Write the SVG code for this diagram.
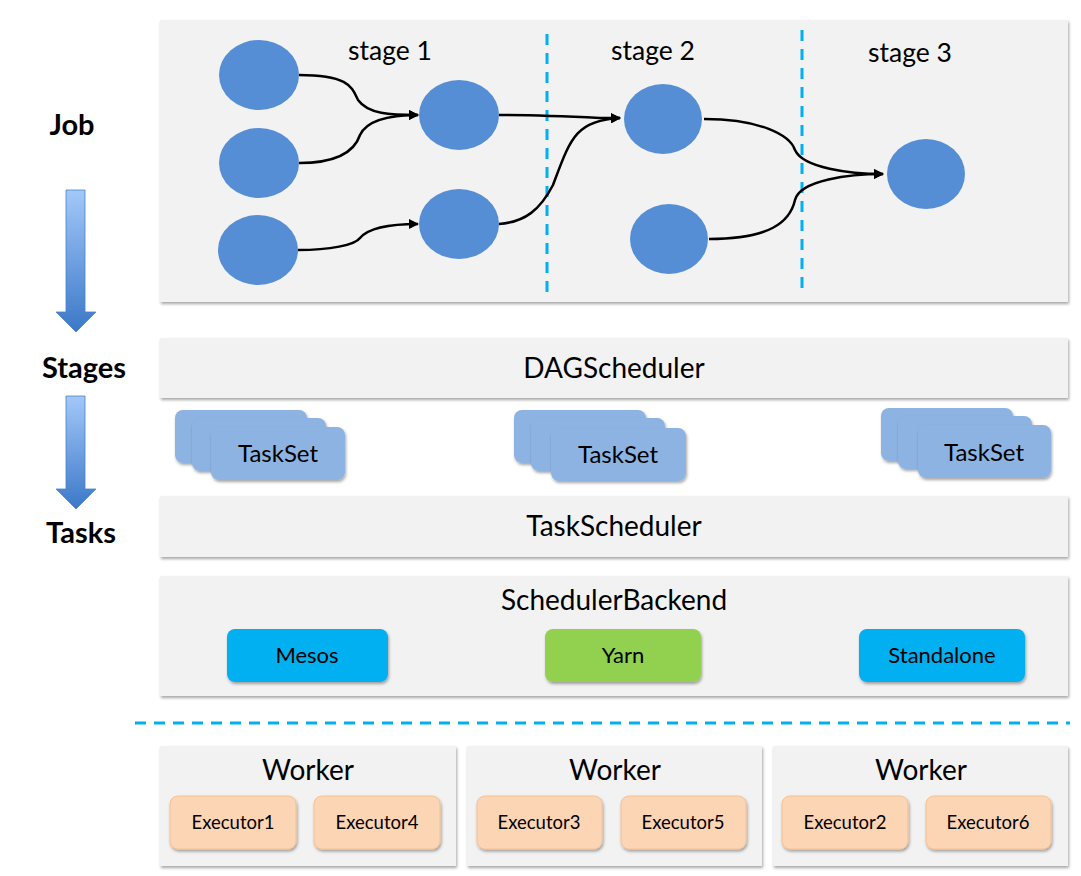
<svg xmlns="http://www.w3.org/2000/svg" width="1081" height="876" viewBox="0 0 1081 876">
<style>
.panel{fill:#f2f2f2;filter:url(#sh)}
.t{font-family:Lato,"Open Sans","Liberation Sans",sans-serif;fill:#000;text-anchor:middle}
.lbl{font-size:29px;font-weight:bold}
.stg{font-size:26.5px}
.big{font-size:28px}
.ts-t{font-size:24px}
.mid{font-size:22px}
.sm{font-size:18.5px}
.dag{fill:#558ed5}
.ts{fill:#8db3e2;filter:url(#sh)}
.exe{fill:#fcd5b5;stroke:#f8c090;stroke-width:1;filter:url(#sh)}
.edge{fill:none;stroke:#000;stroke-width:2.5;marker-end:url(#ah)}
.dash{stroke:#00b0f0;stroke-width:3;stroke-dasharray:11 8;fill:none}
</style>
<defs>
<filter id="sh" x="-10%" y="-10%" width="120%" height="130%">
<feDropShadow dx="1" dy="2" stdDeviation="1.5" flood-color="#000" flood-opacity="0.35"/>
</filter>
<linearGradient id="ag" x1="0" y1="0" x2="0" y2="1">
<stop offset="0" stop-color="#a3c8f9"/>
<stop offset="1" stop-color="#3b78c8"/>
</linearGradient>
<marker id="ah" viewBox="0 0 10 10" refX="9" refY="5" markerWidth="4" markerHeight="4" orient="auto" markerUnits="strokeWidth">
<path d="M0,0 L10,5 L0,10 z" fill="#000"/>
</marker>
</defs>
<rect width="1081" height="876" fill="#fff"/>

<g id="left-labels">
<text class="t lbl" x="72" y="135">Job</text>
<path d="M66,190 H85 V312 H96 L76,332 L56,312 H66 Z" fill="url(#ag)" stroke="#4a80c8" stroke-width="0.8"/>
<text class="t lbl" x="84" y="378">Stages</text>
<path d="M66,396 H85 V489 H96 L76,509 L56,489 H66 Z" fill="url(#ag)" stroke="#4a80c8" stroke-width="0.8"/>
<text class="t lbl" x="81" y="543">Tasks</text>
</g>

<g id="job-panel">
<rect class="panel" x="160" y="20" width="908" height="282"/>
<text class="t stg" x="390" y="60">stage 1</text>
<text class="t stg" x="653" y="60">stage 2</text>
<text class="t stg" x="910" y="62">stage 3</text>
<line class="dash" x1="547" y1="34" x2="547" y2="294"/>
<line class="dash" x1="802" y1="30" x2="802" y2="294"/>
</g>

<g id="connectors">
<path class="edge" d="M299,75 C350,75 352,88 358,100 C368,114 390,115 418,115"/>
<path class="edge" d="M299,163 C340,163 355,150 360,135 C368,118 395,115 418,115"/>
<path class="edge" d="M298,250 C330,250 355,245 360,238 C370,226 395,224 418,224"/>
<path class="edge" d="M499,115 C540,115 560,116 600,118 L620,118"/>
<path class="edge" d="M499,224 C525,222 540,210 553,185 C570,140 575,120 620,118"/>
<path class="edge" d="M704,119 C760,119 790,135 795,150 C803,168 850,174 883,174"/>
<path class="edge" d="M709,239 C770,239 790,222 795,200 C800,180 850,174 883,174"/>
</g>

<g id="node-a"><ellipse class="dag" cx="259" cy="75" rx="40" ry="35"/></g>
<g id="node-b"><ellipse class="dag" cx="259" cy="163" rx="40" ry="35"/></g>
<g id="node-c"><ellipse class="dag" cx="258" cy="250" rx="40" ry="35"/></g>
<g id="node-d"><ellipse class="dag" cx="459" cy="115" rx="40" ry="35"/></g>
<g id="node-e"><ellipse class="dag" cx="459" cy="224" rx="40" ry="35"/></g>
<g id="node-f"><ellipse class="dag" cx="663" cy="119" rx="39" ry="35"/></g>
<g id="node-g"><ellipse class="dag" cx="669" cy="239" rx="39" ry="35"/></g>
<g id="node-h"><ellipse class="dag" cx="926" cy="174" rx="39" ry="35"/></g>

<g id="dagscheduler">
<rect class="panel" x="160" y="338" width="908" height="60"/>
<text class="t big" x="614" y="378">DAGScheduler</text>
</g>

<g id="taskset-1">
<rect class="ts" x="175" y="410" width="132" height="53" rx="8"/>
<rect class="ts" x="192" y="418" width="134" height="53" rx="8"/>
<rect class="ts" x="211" y="427" width="134" height="53" rx="8"/>
<text class="t ts-t" x="278" y="462">TaskSet</text>
</g>
<g id="taskset-2">
<rect class="ts" x="514" y="410" width="132" height="53" rx="8"/>
<rect class="ts" x="531" y="418" width="134" height="53" rx="8"/>
<rect class="ts" x="551" y="428" width="135" height="53" rx="8"/>
<text class="t ts-t" x="618" y="463">TaskSet</text>
</g>
<g id="taskset-3">
<rect class="ts" x="881" y="408" width="132" height="53" rx="8"/>
<rect class="ts" x="898" y="416" width="134" height="53" rx="8"/>
<rect class="ts" x="918" y="425" width="133" height="53" rx="8"/>
<text class="t ts-t" x="984" y="461">TaskSet</text>
</g>

<g id="taskscheduler">
<rect class="panel" x="160" y="496" width="908" height="61"/>
<text class="t big" x="614" y="536">TaskScheduler</text>
</g>

<g id="schedulerbackend">
<rect class="panel" x="160" y="576" width="908" height="120"/>
<text class="t big" x="614" y="610">SchedulerBackend</text>
</g>
<g id="mesos">
<rect x="227" y="629" width="161" height="53" rx="8" fill="#00b0f0" filter="url(#sh)"/>
<text class="t mid" x="307" y="663">Mesos</text>
</g>
<g id="yarn">
<rect x="545" y="629" width="156" height="53" rx="8" fill="#92d050" filter="url(#sh)"/>
<text class="t mid" x="623" y="663">Yarn</text>
</g>
<g id="standalone">
<rect x="859" y="629" width="166" height="53" rx="8" fill="#00b0f0" filter="url(#sh)"/>
<text class="t mid" x="942" y="663">Standalone</text>
</g>

<line class="dash" x1="135" y1="723" x2="1070" y2="723" stroke-dasharray="12 8"/>

<g id="worker-1">
<rect class="panel" x="160" y="746" width="296" height="120"/>
<text class="t big" x="308" y="780">Worker</text>
<rect class="exe" x="170" y="796" width="126" height="53" rx="8"/>
<text class="t sm" x="233" y="829">Executor1</text>
<rect class="exe" x="314" y="796" width="126" height="53" rx="8"/>
<text class="t sm" x="377" y="829">Executor4</text>
</g>
<g id="worker-2">
<rect class="panel" x="467" y="746" width="295" height="120"/>
<text class="t big" x="615" y="780">Worker</text>
<rect class="exe" x="477" y="796" width="125" height="53" rx="8"/>
<text class="t sm" x="539" y="829">Executor3</text>
<rect class="exe" x="621" y="796" width="125" height="53" rx="8"/>
<text class="t sm" x="683" y="829">Executor5</text>
</g>
<g id="worker-3">
<rect class="panel" x="773" y="746" width="295" height="120"/>
<text class="t big" x="921" y="780">Worker</text>
<rect class="exe" x="782" y="796" width="126" height="53" rx="8"/>
<text class="t sm" x="845" y="829">Executor2</text>
<rect class="exe" x="926" y="796" width="125" height="53" rx="8"/>
<text class="t sm" x="988" y="829">Executor6</text>
</g>
</svg>
